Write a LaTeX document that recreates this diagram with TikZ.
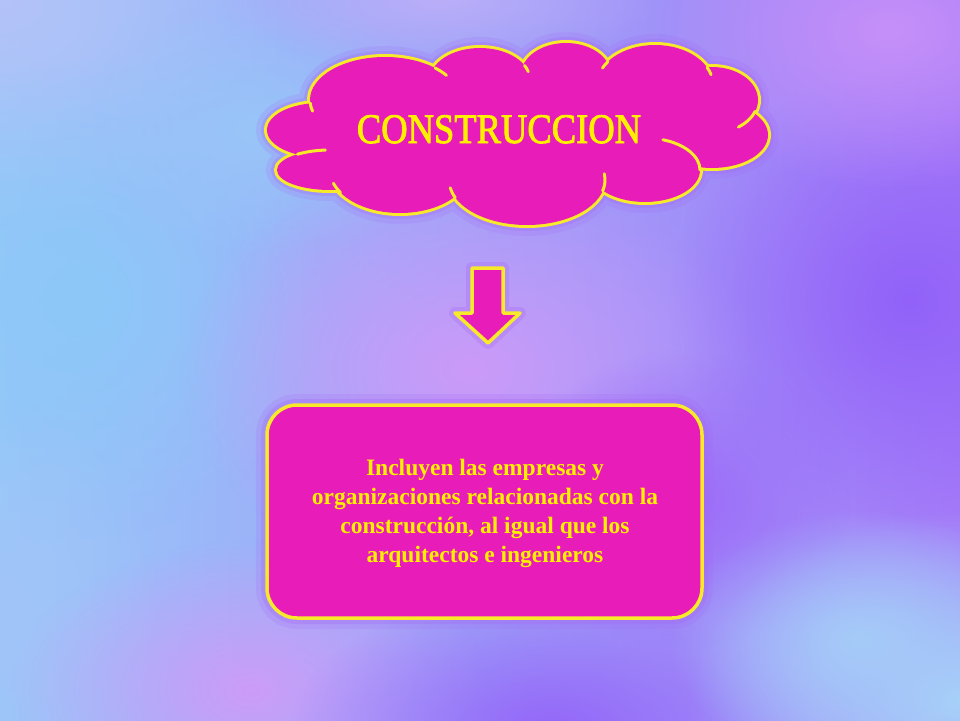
\documentclass[tikz,border=0pt]{standalone}
\usepackage{fontspec}
\setmainfont{Liberation Serif}
\newfontfamily\titlefont{Liberation Serif}[FakeBold=2.2]
\usetikzlibrary{fadings}
\definecolor{mag}{HTML}{E71CB9}
\definecolor{ylw}{HTML}{F8EA2A}
\definecolor{txty}{HTML}{FFF000}
\definecolor{glow}{HTML}{A468F4}
\definecolor{bgl}{HTML}{98C8F8}
\definecolor{bgm}{HTML}{C4A2F8}
\definecolor{bgr}{HTML}{A47AF8}
\tikzfading[name=blob, inner color=transparent!0, outer color=transparent!100]
\tikzset{
  outline/.style={draw=ylw, line width=3.5pt, line join=round},
  shapefill/.style={fill=mag},
  bigtext/.style={text=txty, font=\titlefont\fontsize{42}{48}\selectfont},
  boxtext/.style={text=txty, font=\bfseries\fontsize{23.5}{29}\selectfont, align=center},
}
\def\bumps{385/100/75/43, 480/80/50/32, 566/75/45/32, 655/85/58/40, 712/100/46/33,
  712/135/56/33, 645/170/55/32, 527/180/78/45, 400/170/70/43, 330/170/53/20, 320/130/53/27}
\begin{document}
\begin{tikzpicture}[x=1pt,y=-1pt]
\useasboundingbox (0,0) rectangle (960,720);
% background
\shade[left color=bgl, middle color=bgm, right color=bgr] (0,0) rectangle (960,720);
\begin{scope}
\clip (0,0) rectangle (960,720);
\foreach \c/\x/\y/\rx/\ry in {B4C2F8/0/0/300/230, 8CC8F8/80/300/250/240, 98C6F8/260/130/200/130,
  A2C4F8/0/620/170/220,
  CC9CF8/250/690/240/150, CC9AF8/470/370/290/210, 9262F8/910/300/240/230,
  9466F8/550/730/260/140, 9C6AF8/680/500/170/150, A8D4F8/960/700/270/190, A4CCF8/860/640/190/130,
  C690F8/890/30/230/160, BAAEF8/440/0/220/70} {
  \definecolor{tmp}{HTML}{\c}
  \fill[tmp, path fading=blob] (\x,\y) ellipse [x radius=\rx, y radius=\ry];
}
\end{scope}
% cloud glow
\begin{scope}[transparency group, opacity=0.18]
\foreach \cx/\cy/\rx/\ry in \bumps {\draw[glow, line width=22pt] (\cx,\cy) ellipse [x radius=\rx, y radius=\ry];}
\end{scope}
\begin{scope}[transparency group, opacity=0.3]
\foreach \cx/\cy/\rx/\ry in \bumps {\draw[glow, line width=12pt] (\cx,\cy) ellipse [x radius=\rx, y radius=\ry];}
\end{scope}
% cloud outline + fill
\foreach \cx/\cy/\rx/\ry in \bumps {\draw[draw=ylw, line width=6pt] (\cx,\cy) ellipse [x radius=\rx, y radius=\ry];}
\foreach \cx/\cy/\rx/\ry in \bumps {\fill[mag] (\cx,\cy) ellipse [x radius=\rx, y radius=\ry];}
\fill[mag] (520,135) ellipse [x radius=190, y radius=60];
% inner tails of the cloud
\foreach \cx/\cy/\rx/\ry/\a/\b in {385/100/75/43/-48/-35, 480/80/50/32/-27/-15, 655/85/58/40/-144/-155,
  655/85/58/40/-26/-15, 712/100/46/33/20/55, 645/170/55/32/-71/0, 527/180/78/45/14/-8,
  527/180/78/45/157/170, 400/170/70/43/148/162, 330/170/53/20/-128/-95, 385/100/75/43/176/165} {
  \draw[ylw, line width=3pt, line cap=round] (\cx,\cy) ++({\rx*cos(\a)},{\ry*sin(\a)}) arc[start angle=\a, end angle=\b, x radius=\rx, y radius=\ry];
}
\node[bigtext, anchor=base, inner sep=0] (title) at (499,143) {\scalebox{0.87}[1]{CONSTRUCCION}};
% arrow
\coordinate (arrowtip) at (488,343);
\begin{scope}[transparency group, opacity=0.3]
\draw[glow, line width=12pt, line join=round] (472,268) -- (503,268) -- (503,313) -- (520,313) -- (arrowtip) -- (455,313) -- (472,313) -- cycle;
\end{scope}
\draw[outline, shapefill] (472,268) -- (503,268) -- (503,313) -- (520,313) -- (arrowtip) -- (455,313) -- (472,313) -- cycle;
% box
\node[draw=glow, draw opacity=0.18, line width=22pt, rounded corners=30pt, minimum width=435pt, minimum height=213pt] (boxglow) at (484.5,511.5) {};
\node[draw=glow, draw opacity=0.3, line width=12pt, rounded corners=30pt, minimum width=435pt, minimum height=213pt] (boxglow2) at (484.5,511.5) {};
\node[outline, shapefill, rounded corners=30pt, minimum width=435pt, minimum height=213pt] (box) at (484.5,511.5) {};
\node[boxtext] (boxtxt) at (485,513) {Incluyen las empresas y\\organizaciones relacionadas con la\\construcción, al igual que los\\arquitectos e ingenieros};
\end{tikzpicture}
\end{document}
